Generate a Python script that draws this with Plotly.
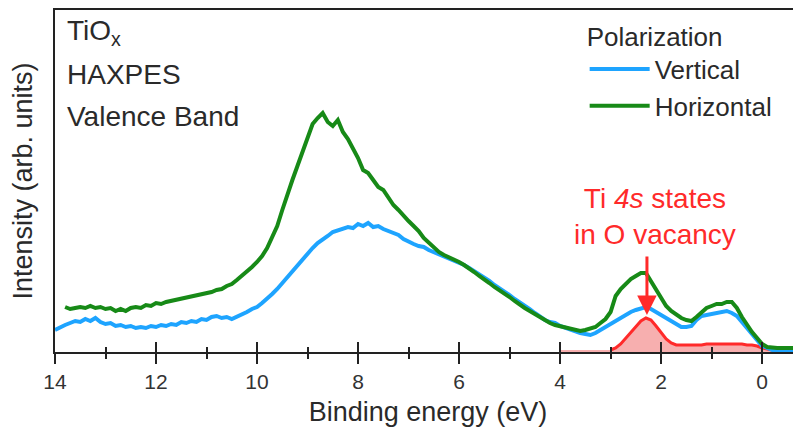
import numpy as np
import plotly.graph_objects as go

# Binding energy grids (eV)
energy_vertical = np.round(np.arange(14.0, -0.85, -0.1), 2)
energy_horizontal = np.round(np.arange(13.8, -0.85, -0.1), 2)
energy_ti4s = np.round(np.arange(4.0, -0.85, -0.1), 2)

# Intensities (arb. units)
vertical = [
    22, 25, 27, 29, 31, 30, 33, 31, 34, 30,   # 14.0 .. 13.1
    28, 29, 26, 27, 25, 26, 24, 25, 24, 26,   # 13.0 .. 12.1
    25, 27, 26, 28, 27, 30, 29, 31, 30, 33,   # 12.0 .. 11.1
    32, 35, 36, 34, 35, 33, 35, 38, 40, 43,   # 11.0 .. 10.1
    45, 49, 53, 58, 63, 69, 75, 80, 86, 93,   # 10.0 .. 9.1
    99, 104, 109, 112, 116, 120, 122, 123, 125, 124,  # 9.0 .. 8.1
    128, 126, 129, 125, 126, 123, 121, 119, 117, 113,  # 8.0 .. 7.1
    110, 108, 106, 105, 102, 100, 98, 96, 94, 92,      # 7.0 .. 6.1
    89, 87, 84, 81, 77, 74, 71, 67, 64, 60,            # 6.0 .. 5.1
    57, 53, 50, 46, 43, 39, 35, 32, 30, 29,            # 5.0 .. 4.1
    26, 24, 22, 21, 19, 18, 17, 19, 22, 26,            # 4.0 .. 3.1
    29, 32, 34, 37, 40, 42, 44, 45, 43, 40,            # 3.0 .. 2.1
    37, 34, 30, 27, 25, 25, 26, 32, 36, 37,            # 2.0 .. 1.1
    38, 39, 40, 41, 39, 36, 30, 24, 18, 12,            # 1.0 .. 0.1
    6, 4, 2, 2, 2, 3, 2, 2, 2,                         # 0.0 .. -0.8
]

horizontal = [
    45, 43, 44, 45, 44, 46, 44, 45,                    # 13.8 .. 13.1
    43, 44, 41, 43, 41, 44, 45, 44, 47, 46,            # 13.0 .. 12.1
    49, 48, 50, 51, 52, 53, 54, 55, 57, 58,            # 12.0 .. 11.1
    59, 60, 62, 63, 66, 68, 72, 76, 81, 85,            # 11.0 .. 10.1
    90, 96, 104, 114, 126, 142, 158, 172, 186, 200,    # 10.0 .. 9.1
    212, 228, 234, 239, 230, 226, 232, 220, 213, 204,  # 9.0 .. 8.1
    194, 182, 179, 172, 165, 162, 155, 147, 142, 136,  # 8.0 .. 7.1
    131, 126, 121, 114, 109, 104, 100, 97, 95, 93,     # 7.0 .. 6.1
    90, 87, 84, 80, 76, 73, 69, 65, 62, 58,            # 6.0 .. 5.1
    55, 51, 47, 44, 41, 38, 34, 31, 29, 27,            # 5.0 .. 4.1
    26, 24, 23, 22, 21, 22, 24, 25, 29, 33,            # 4.0 .. 3.1
    40, 56, 63, 68, 73, 76, 79, 79, 71, 62,            # 3.0 .. 2.1
    54, 46, 41, 37, 34, 32, 31, 35, 40, 44,            # 2.0 .. 1.1
    46, 48, 48, 50, 50, 44, 35, 27, 20, 14,            # 1.0 .. 0.1
    8, 5, 4, 4, 4, 4, 4, 4, 4,                         # 0.0 .. -0.8
]

ti4s = [
    2, 2, 2, 2, 2, 2, 2, 2, 2, 2,                      # 4.0 .. 3.1
    2, 4, 8, 14, 20, 26, 31, 34, 32, 26,               # 3.0 .. 2.1
    19, 13, 9, 7, 7, 7, 7, 7, 7, 8,                    # 2.0 .. 1.1
    8, 8, 8, 8, 8, 8, 8, 7, 7, 6,                      # 1.0 .. 0.1
    4, 3, 2, 2, 2, 2, 2, 2, 2,                         # 0.0 .. -0.8
]
ti4s_line_start = 3.0   # red outline is drawn from this energy downward

x_ticks = [14, 12, 10, 8, 6, 4, 2, 0]
x_range = [14, -0.77]
y_range = [0, 342]

BLUE = "#1ea4ff"
GREEN = "#178a17"
RED = "#ff2a2a"
FONT = "Liberation Sans, Arial, sans-serif"
TXT = "#2a2a2a"

line_mask = energy_ti4s <= ti4s_line_start + 1e-9

fig = go.Figure()

fig.add_trace(go.Scatter(
    x=energy_ti4s, y=ti4s, mode="lines",
    line=dict(color="rgba(0,0,0,0)", width=0),
    fill="tozeroy", fillcolor="rgba(240,110,110,0.55)",
    showlegend=False, hoverinfo="skip"))

fig.add_trace(go.Scatter(
    x=energy_ti4s[line_mask], y=np.array(ti4s)[line_mask], mode="lines",
    line=dict(color=RED, width=3),
    showlegend=False, hoverinfo="skip"))

fig.add_trace(go.Scatter(
    x=energy_vertical, y=vertical, mode="lines", name="Vertical",
    line=dict(color=BLUE, width=4)))

fig.add_trace(go.Scatter(
    x=energy_horizontal, y=horizontal, mode="lines", name="Horizontal",
    line=dict(color=GREEN, width=4)))

# invisible trace on the overlay axis that carries the inward ticks
fig.add_trace(go.Scatter(
    x=[x_range[0]], y=[None], xaxis="x2", mode="lines",
    showlegend=False, hoverinfo="skip"))

fig.update_layout(
    width=793, height=424,
    margin=dict(l=47, r=0, t=2, b=80),
    paper_bgcolor="white", plot_bgcolor="white",
    font=dict(family=FONT, color=TXT, size=22),
    xaxis=dict(
        range=x_range, tickvals=x_ticks, ticks="outside", ticklen=10,
        tickwidth=2, tickcolor="#222", showline=True, linecolor="#222",
        linewidth=2, mirror=True, showgrid=False, zeroline=False,
        automargin=False,
        tickfont=dict(size=21, color="#333"),
        minor=dict(dtick=1, ticks="outside", ticklen=5, tickwidth=2,
                   tickcolor="#222", showgrid=False),
        title=dict(text="Binding energy (eV)", font=dict(size=27, color=TXT),
                   standoff=10),
    ),
    xaxis2=dict(
        overlaying="x", matches="x", range=x_range, tickvals=x_ticks,
        ticks="inside", ticklen=10, tickwidth=2, tickcolor="#222",
        showticklabels=False, showline=False, showgrid=False, zeroline=False,
        automargin=False,
        minor=dict(dtick=1, ticks="inside", ticklen=5, tickwidth=2,
                   tickcolor="#222", showgrid=False),
    ),
    yaxis=dict(
        range=y_range, showticklabels=False, ticks="", showgrid=False,
        zeroline=False, showline=True, linecolor="#222", linewidth=2,
        automargin=False,
        title=dict(text="Intensity (arb. units)", font=dict(size=27, color=TXT),
                   standoff=16),
    ),
    legend=dict(
        x=0.71, y=0.995, xanchor="left", yanchor="top",
        bgcolor="rgba(0,0,0,0)", font=dict(size=26, color=TXT),
        title=dict(text="Polarization", font=dict(size=26, color=TXT)),
        tracegroupgap=0, itemwidth=60,
    ),
)

# Sample description
for i, label in enumerate(["TiO<sub>x</sub>", "HAXPES", "Valence Band"]):
    fig.add_annotation(
        xref="paper", yref="paper", x=0.014, y=0.935 - i * 0.123,
        xanchor="left", yanchor="middle", showarrow=False,
        text=label, font=dict(size=28, color=TXT))

# Ti 4s arrow and label
fig.add_annotation(
    x=2.28, y=37, ax=2.28, ay=97, xref="x", yref="y", axref="x", ayref="y",
    text="", showarrow=True, arrowhead=2, arrowsize=1.3, arrowwidth=3,
    arrowcolor=RED)
fig.add_annotation(
    x=2.12, y=136, xref="x", yref="y", showarrow=False,
    text="Ti <i>4s</i> states<br>in O vacancy",
    font=dict(size=28, color=RED), align="center")

fig.write_html("out.html")
